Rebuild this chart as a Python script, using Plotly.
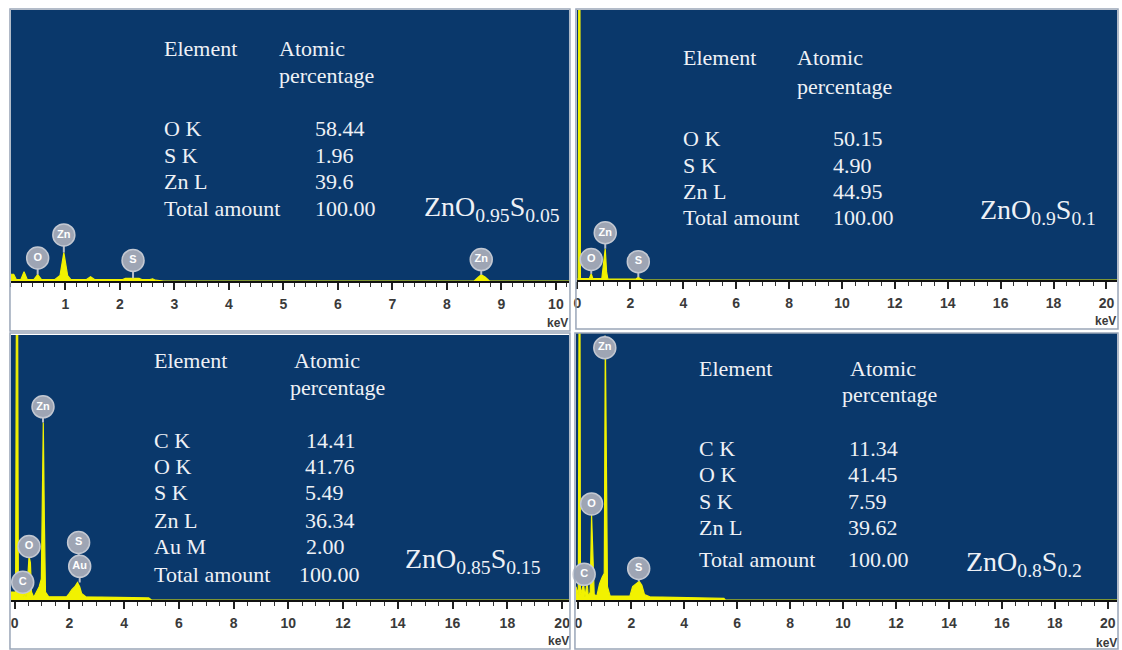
import plotly.graph_objects as go

W, H = 1122, 650
BLUE = "#0a386b"
YELLOW = "#f2f200"

# ---------------- data ----------------
# Top-left spectrum: ZnO0.95S0.05 (keV, relative counts)
tl_energy = [0.00, 0.05, 0.10, 0.18, 0.24, 0.30, 0.42, 0.49, 0.56, 0.80, 0.90, 0.97, 1.04, 1.10,
             1.38, 1.46, 1.54, 2.05, 2.10, 2.35, 2.40, 2.55, 2.60, 2.65, 2.80, 8.50, 8.58, 8.63, 8.70, 8.78, 10.3]
tl_counts = [2.5, 2.5, 0.5, 0.5, 3.4, 0.5, 0.5, 2.4, 0.5, 0.5, 2.0, 10.5, 2.0, 0.5,
             0.5, 1.6, 0.5, 0.5, 1.0, 1.0, 0.5, 0.5, 0.8, 0.3, 0.0, 0.0, 1.5, 2.3, 1.5, 0.0, 0.0]

# Top-right spectrum: ZnO0.9S0.1
tr_energy = [0.00, 0.03, 0.05, 0.09, 0.11, 0.45, 0.52, 0.58, 0.92, 0.99, 1.05, 1.10, 1.15, 2.20, 2.30, 2.40, 2.50, 20.4]
tr_counts = [0.5, 0.5, 120, 120, 0.5, 0.5, 2.3, 0.5, 0.5, 6.0, 11.6, 3.0, 0.3, 0.3, 1.0, 0.3, 0.0, 0.0]

# Bottom-left spectrum: ZnO0.85S0.15
bl_energy = [-0.13, -0.02, 0.04, 0.07, 0.11, 0.14, 0.22, 0.30, 0.34, 0.38, 0.42, 0.48, 0.53, 0.58, 0.62,
             0.70, 0.80, 0.90, 0.98, 1.01, 1.05, 1.09, 1.13, 1.25, 1.90, 2.00, 2.10, 2.20, 2.30, 2.38,
             2.45, 2.60, 3.50, 4.90, 5.00, 20.3]
bl_counts = [3.0, 3.0, 3.0, 120, 120, 2.0, 4.0, 5.0, 1.0, 4.0, 1.0, 8.0, 16.6, 14.0, 3.0,
             1.0, 3.0, 5.0, 8.0, 40.0, 67.0, 30.0, 3.0, 1.2, 1.2, 2.5, 4.0, 5.0, 6.6, 5.0,
             2.5, 1.2, 1.0, 0.8, 0.0, 0.0]

# Bottom-right spectrum: ZnO0.8S0.2
br_energy = [-0.09, 0.00, 0.03, 0.06, 0.08, 0.20, 0.25, 0.33, 0.38, 0.45, 0.50, 0.55, 0.60, 0.70,
             0.80, 0.90, 0.98, 1.02, 1.06, 1.10, 1.20, 1.95, 2.05, 2.20, 2.30, 2.40, 2.50, 2.70,
             4.00, 5.50, 5.55, 20.4]
br_counts = [5.0, 2.0, 120, 120, 2.0, 6.0, 1.0, 6.7, 1.0, 3.0, 32.0, 20.0, 2.0, 1.5,
             6.0, 8.5, 10.0, 99.0, 60.0, 5.0, 1.5, 1.5, 5.0, 6.0, 7.0, 5.5, 2.0, 1.2,
             0.8, 0.6, 0.0, 0.0]

# Element peak labels: symbol, energy, label height, peak height
tl_lab = ["O", "Zn", "S", "Zn"]
tl_lab_e = [0.49, 0.97, 2.24, 8.63]
tl_lab_y = [8.5, 17.0, 7.6, 7.9]
tl_lab_peak = [2.4, 10.5, 1.0, 2.3]

tr_lab = ["O", "Zn", "S"]
tr_lab_e = [0.52, 1.05, 2.30]
tr_lab_y = [7.6, 17.5, 6.8]
tr_lab_peak = [2.3, 11.6, 1.0]

bl_lab = ["C", "O", "Zn", "S", "Au"]
bl_lab_e = [0.30, 0.53, 1.04, 2.34, 2.38]
bl_lab_y = [6.7, 20.2, 72.9, 21.7, 12.7]
bl_lab_peak = [5.0, 16.6, 67.0, 17.0, 6.6]

br_lab = ["C", "O", "Zn", "S"]
br_lab_e = [0.22, 0.50, 1.00, 2.28]
br_lab_y = [9.6, 36.0, 94.5, 11.8]
br_lab_peak = [6.0, 32.0, 99.0, 7.0]

# Composition tables
tl_elements = ["O K", "S K", "Zn L", "Total amount"]
tl_values = ["58.44", "1.96", "39.6", "100.00"]
tr_elements = ["O K", "S K", "Zn L", "Total amount"]
tr_values = ["50.15", "4.90", "44.95", "100.00"]
bl_elements = ["C K", "O K", "S K", "Zn L", "Au M", "Total amount"]
bl_values = ["14.41", "41.76", "5.49", "36.34", "2.00", "100.00"]
br_elements = ["C K", "O K", "S K", "Zn L", "Total amount"]
br_values = ["11.34", "41.45", "7.59", "39.62", "100.00"]
formulas = ["ZnO<sub>0.95</sub>S<sub>0.05</sub>", "ZnO<sub>0.9</sub>S<sub>0.1</sub>",
            "ZnO<sub>0.85</sub>S<sub>0.15</sub>", "ZnO<sub>0.8</sub>S<sub>0.2</sub>"]

tl_ticks = [1, 2, 3, 4, 5, 6, 7, 8, 9, 10]
wide_ticks = [0, 2, 4, 6, 8, 10, 12, 14, 16, 18, 20]

# ---------------- layout helpers ----------------
def px(x):
    return x / W

def py(y):
    return 1 - y / H

panels = [
    dict(ax="", x0=8, x1=568, yt=10, yb=281, xr=[0, 10.24], ticks=tl_ticks, minor=0.2,
         e=tl_energy, c=tl_counts, lab=tl_lab, le=tl_lab_e, ly=tl_lab_y, lp=tl_lab_peak),
    dict(ax="2", x0=576, x1=1118, yt=10, yb=280, xr=[-0.02, 20.4], ticks=wide_ticks, minor=0.5,
         e=tr_energy, c=tr_counts, lab=tr_lab, le=tr_lab_e, ly=tr_lab_y, lp=tr_lab_peak),
    dict(ax="3", x0=8, x1=568, yt=335, yb=600, xr=[-0.13, 20.25], ticks=wide_ticks, minor=0.5,
         e=bl_energy, c=bl_counts, lab=bl_lab, le=bl_lab_e, ly=bl_lab_y, lp=bl_lab_peak),
    dict(ax="4", x0=575, x1=1118, yt=333, yb=600, xr=[-0.09, 20.35], ticks=wide_ticks, minor=0.5,
         e=br_energy, c=br_counts, lab=br_lab, le=br_lab_e, ly=br_lab_y, lp=br_lab_peak),
]

fig = go.Figure()
layout = dict(
    width=W, height=H, margin=dict(l=0, r=0, t=0, b=0),
    paper_bgcolor="white", plot_bgcolor=BLUE, showlegend=False,
)

tickfont = dict(family="Liberation Sans, Arial", size=14, color="#3a3a3a", weight="bold")

for p in panels:
    xa = "x" + p["ax"]
    ya = "y" + p["ax"]
    layout["xaxis" + p["ax"]] = dict(
        domain=[px(p["x0"]), px(p["x1"])], range=p["xr"], anchor=ya,
        showline=True, linecolor="#111", linewidth=1.5, mirror=False,
        ticks="outside", ticklen=7, tickwidth=1.5, tickcolor="#222",
        tickmode="array", tickvals=p["ticks"], ticktext=[str(t) for t in p["ticks"]],
        tickfont=tickfont, ticklabelstandoff=2,
        minor=dict(ticks="outside", ticklen=4, tickwidth=1, tickcolor="#333", dtick=p["minor"], tick0=0),
        showgrid=False, zeroline=False, fixedrange=True,
    )
    layout["yaxis" + p["ax"]] = dict(
        domain=[py(p["yb"]), py(p["yt"])], range=[0, 100], anchor=xa,
        showline=False, showgrid=False, zeroline=False, showticklabels=False, ticks="",
        fixedrange=True,
    )
    fig.add_trace(go.Scatter(
        x=p["e"], y=p["c"], xaxis=xa, yaxis=ya, mode="lines",
        line=dict(color=YELLOW, width=1.2), fill="tozeroy", fillcolor=YELLOW,
        hoverinfo="skip",
    ))
    for e, ly, lp in zip(p["le"], p["ly"], p["lp"]):
        fig.add_trace(go.Scatter(
            x=[e, e], y=[lp, ly], xaxis=xa, yaxis=ya, mode="lines",
            line=dict(color="#b9bec9", width=2), hoverinfo="skip",
        ))
    fig.add_trace(go.Scatter(
        x=p["le"], y=p["ly"], xaxis=xa, yaxis=ya, mode="markers+text",
        text=p["lab"], textposition="middle center",
        textfont=dict(family="Liberation Sans, Arial", size=11, color="white", weight="bold"),
        marker=dict(symbol="circle", size=22, color="#9ea5b4", line=dict(color="#c3c8d2", width=1.5)),
        hoverinfo="skip", cliponaxis=False,
    ))

fig.update_layout(**layout)

# ---------------- annotations ----------------
serif = "Liberation Serif, Times New Roman, serif"
txt_col = "#eef1f6"
ann = []

def add_text(x, y, s, size=22, anchor="left"):
    ann.append(dict(x=px(x), y=py(y), xref="paper", yref="paper", text=s, showarrow=False,
                    xanchor=anchor, yanchor="middle",
                    font=dict(family=serif, size=size, color=txt_col)))

def table(ex, vx, hx, px_pct, y_head, y_pct, y_rows, elements, values, fx, fy, formula):
    add_text(ex, y_head, "Element")
    add_text(hx, y_head, "Atomic")
    add_text(px_pct, y_pct, "percentage")
    for yy, el, v in zip(y_rows, elements, values):
        add_text(ex, yy, el)
        add_text(vx[el] if isinstance(vx, dict) else vx, yy, v)
    add_text(fx, fy, formula, size=28)

table(160, 311, 275, 275, 48, 76, [128, 155, 181, 208], tl_elements, tl_values, 420, 208, formulas[0])
table(680, 831, 795, 795, 58, 86, [138, 165, 191, 217], tr_elements, tr_values, 978, 211, formulas[1])
table(150, {"C K": 302, "O K": 301, "S K": 301, "Zn L": 301, "Au M": 302, "Total amount": 295},
      290, 286, 360, 387, [440, 466, 493, 520, 546, 574], bl_elements, bl_values, 401, 560, formulas[2])
table(696, {"C K": 847, "O K": 846, "S K": 846, "Zn L": 846, "Total amount": 846},
      848, 840, 368, 395, [448, 474, 501, 527, 559], br_elements, br_values, 964, 563, formulas[3])

for (x, y) in [(556, 323), (1106, 321), (557, 641), (1107, 643)]:
    ann.append(dict(x=px(x), y=py(y), xref="paper", yref="paper", text="keV", showarrow=False,
                    xanchor="center", yanchor="middle",
                    font=dict(family="Liberation Sans, Arial", size=12, color="#3a3a3a", weight="bold")))

fig.update_layout(annotations=ann)

shapes = []
for (x0, y0, x1, y1) in [(7, 9, 569, 331), (575, 9, 1119, 329), (7, 333, 569, 649), (574, 333, 1119, 649)]:
    shapes.append(dict(type="rect", xref="paper", yref="paper", x0=px(x0), x1=px(x1), y0=py(y1), y1=py(y0),
                       line=dict(color="#9aa6b8", width=1.5), fillcolor="rgba(0,0,0,0)", layer="above"))
fig.update_layout(shapes=shapes)

fig.write_html("out.html", config={"displayModeBar": False},
               post_script="document.body.style.margin='0';document.body.style.overflow='hidden';")
